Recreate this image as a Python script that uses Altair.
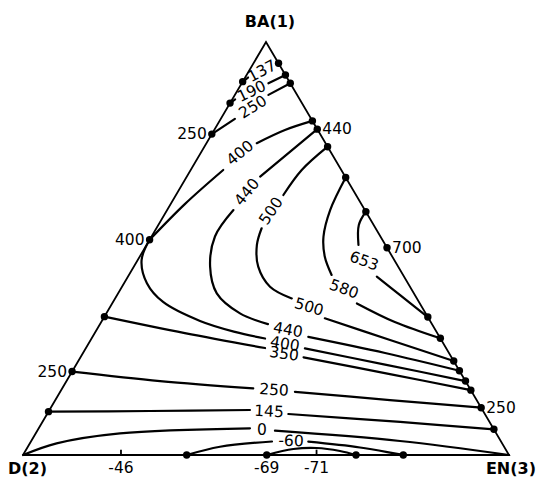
import altair as alt
import pandas as pd

# Ternary compositions in %, given as (BA(1), EN(3)); D(2) = 100 - BA - EN.
# Each contour is a list of drawn segments (gaps are where the labels sit).
c137 = [[(90.4, 0.0), (91.4, 0.6)]]
c190 = [[(85.2, 0.0), (86.1, 0.6)], [(90.0, 5.5), (92.0, 8.0)]]
c250a = [[(77.7, 0.0), (81.4, 2.9)], [(87.2, 6.9), (90.0, 10.0)]]
c400 = [[(80.9, 19.1), (78.7, 14.55), (75.5, 10.35)],
        [(69.0, 6.7), (60.8, 2.95), (52.1, 0.0)],
        [(52.1, 0.0), (47.2, 0.8), (41.6, 4.7), (37.05, 10.3),
         (32.45, 20.2), (29.8, 28.7), (28.2, 35.7)],
        [(25.8, 45.1), (21.9, 63.55), (17.9, 82.1)]]
c440 = [[(78.9, 21.1), (67.4, 15.1)],
        [(59.3, 13.65), (52.9, 13.05), (45.6, 15.7), (39.15, 20.3), (34.3, 27.5), (31.7, 34.55)],
        [(28.6, 44.4), (24.7, 62.15), (20.4, 79.6)]]
c500 = [[(74.65, 25.35), (69.0, 22.85), (62.95, 22.1)],
        [(54.9, 21.65), (50.85, 22.7), (45.6, 25.6), (40.75, 30.45), (37.9, 36.35)],
        [(33.1, 45.55), (27.85, 61.6), (22.75, 77.25)]]
c580 = [[(67.2, 32.8), (59.3, 33.55), (52.85, 35.4), (48.0, 38.1), (43.6, 41.7)],
        [(36.7, 50.35), (32.2, 60.4), (28.25, 71.75)]]
c653 = [[(58.9, 41.1), (55.7, 41.25), (50.85, 43.6)],
        [(43.2, 51.2), (38.7, 58.25), (33.4, 66.6)]]
c350 = [[(33.5, 0.0), (29.5, 18.55), (25.9, 36.85)],
        [(23.65, 45.9), (19.6, 65.7), (15.7, 84.3)]]
c250b = [[(20.2, 0.0), (17.9, 19.25), (16.15, 39.3)],
         [(15.3, 48.3), (13.3, 68.85), (11.45, 88.55)]]
c145 = [[(10.5, 0.0), (10.65, 20.8), (10.9, 41.25)],
        [(9.93, 49.63), (8.0, 73.6), (6.22, 93.78)]]
c0 = [[(0.0, 0.0), (2.83, 5.5), (5.25, 17.33), (6.46, 43.47)],
      [(5.88, 48.9), (3.39, 75.88), (0.0, 100.0)]]
cm60 = [[(0.0, 33.68), (2.0, 39.53), (3.27, 49.6)],
        [(3.22, 57.09), (1.82, 68.43), (0.0, 78.25)]]
cm71 = [[(0.0, 50.15), (1.45, 54.9), (1.7, 59.55), (0.97, 64.74), (0.0, 68.52)]]

contours = {"137": c137, "190": c190, "250a": c250a, "400": c400, "440": c440,
            "500": c500, "580": c580, "653": c653, "350": c350, "250b": c250b,
            "145": c145, "0": c0, "-60": cm60, "-71": cm71}

# contour labels
lab_text = ["137", "190", "250", "400", "440", "500", "653", "580", "500", "440",
            "400", "350", "250", "145", "0", "-60"]
lab_BA = [92.95, 88.04, 84.26, 73.12, 63.68, 59.08, 46.97, 40.19, 35.84, 30.27,
          26.88, 24.46, 15.74, 10.53, 6.05, 3.39]
lab_EN = [2.7, 3.04, 5.2, 8.09, 14.25, 21.49, 46.68, 45.95, 40.93, 39.4,
          40.47, 41.47, 43.78, 45.35, 46.15, 53.45]
lab_angle = [-28, -26, -32, -39, -51, -56, 20, 20, 16, 10, 9, 8, 4, 3, 0, 2]

# measured points on the edges
dot_left_BA = [90.4, 85.2, 77.7, 52.1, 33.5, 20.2, 10.5]
dot_right_BA = [94.84, 92.0, 90.0, 80.9, 78.9, 74.65, 67.2, 58.9, 50.2, 33.4,
                28.25, 22.75, 20.4, 17.9, 15.7, 11.45, 6.22]
dot_bottom_EN = [33.68, 50.15, 68.52, 78.25]

left_lab_text = ["250", "400", "250"]
left_lab_BA = [77.7, 52.1, 20.2]
right_lab_text = ["440", "700", "250"]
right_lab_BA = [78.9, 50.2, 11.45]
bottom_lab_text = ["-46", "-69", "-71"]
bottom_lab_EN = [20.16, 50.15, 60.4]
tick_EN = [20.16, 60.4]

vertex_text = ["BA(1)", "D(2)", "EN(3)"]
vertex_BA = [100.0, 0.0, 0.0]
vertex_EN = [0.0, 0.0, 100.0]

tri_BA = [0.0, 0.0, 100.0, 0.0]
tri_EN = [0.0, 100.0, 0.0, 0.0]


def cart(df):
    df["x"] = df["EN"] + df["BA"] / 2.0
    df["y"] = df["BA"]
    return df


rows = []
for name, segs in contours.items():
    for si, seg in enumerate(segs):
        for k, (ba, en) in enumerate(seg):
            rows.append({"seg": f"{name}_{si}", "ord": k, "BA": ba, "EN": en})
lines_df = cart(pd.DataFrame(rows))

tri_df = cart(pd.DataFrame({"BA": tri_BA, "EN": tri_EN, "ord": range(len(tri_BA))}))

dots_df = cart(pd.DataFrame({
    "BA": dot_left_BA + dot_right_BA + [0.0] * len(dot_bottom_EN),
    "EN": [0.0] * len(dot_left_BA) + [100.0 - b for b in dot_right_BA] + dot_bottom_EN,
}))

labels_df = cart(pd.DataFrame({"txt": lab_text, "BA": lab_BA, "EN": lab_EN,
                               "ang": [a % 360 for a in lab_angle]}))
left_df = cart(pd.DataFrame({"txt": left_lab_text, "BA": left_lab_BA,
                             "EN": [0.0] * len(left_lab_BA)}))
right_df = cart(pd.DataFrame({"txt": right_lab_text, "BA": right_lab_BA,
                              "EN": [100.0 - b for b in right_lab_BA]}))
bottom_df = cart(pd.DataFrame({"txt": bottom_lab_text, "EN": bottom_lab_EN,
                               "BA": [0.0] * len(bottom_lab_EN)}))
tick_df = cart(pd.DataFrame({"EN": tick_EN, "BA": [0.0] * len(tick_EN)}))
tick_df["y2"] = 1.3
vert_df = cart(pd.DataFrame({"txt": vertex_text, "BA": vertex_BA, "EN": vertex_EN}))

W, H = 529, 469
xs = alt.Scale(domain=[-3.086, 105.761], nice=False, zero=False)
ys = alt.Scale(domain=[-5.327, 108.232], nice=False, zero=False)
X = alt.X("x:Q", scale=xs, axis=None)
Y = alt.Y("y:Q", scale=ys, axis=None)

FONT = "DejaVu Sans"
FS = 15.5

tri = alt.Chart(tri_df).mark_line(color="black", strokeWidth=1.8).encode(
    x=X, y=Y, order="ord:Q")

curves = alt.Chart(lines_df).mark_line(color="black", strokeWidth=2.2,
                                       strokeCap="round", interpolate="catmull-rom").encode(
    x=X, y=Y, detail="seg:N", order="ord:Q")

ticks = alt.Chart(tick_df).mark_rule(color="black", strokeWidth=1.8).encode(
    x=X, y=Y, y2="y2:Q")

dots = alt.Chart(dots_df).mark_circle(color="black", opacity=1, size=55).encode(x=X, y=Y)

clabels = alt.Chart(labels_df).mark_text(font=FONT, fontSize=FS, color="black",
                                         align="center", baseline="middle").encode(
    x=X, y=Y, text="txt:N", angle=alt.Angle("ang:Q", scale=None))

llabels = alt.Chart(left_df).mark_text(font=FONT, fontSize=FS, color="black",
                                       align="right", baseline="middle", dx=-5).encode(
    x=X, y=Y, text="txt:N")
rlabels = alt.Chart(right_df).mark_text(font=FONT, fontSize=FS, color="black",
                                        align="left", baseline="middle", dx=5).encode(
    x=X, y=Y, text="txt:N")
blabels = alt.Chart(bottom_df).mark_text(font=FONT, fontSize=FS, color="black",
                                         align="center", baseline="middle", dy=13).encode(
    x=X, y=Y, text="txt:N")

VFONT = dict(font="DejaVu Sans", fontWeight="bold", fontSize=16, color="black")
vtop = alt.Chart(vert_df[vert_df["txt"] == "BA(1)"]).mark_text(
    align="center", baseline="middle", dx=4, dy=-20, **VFONT).encode(x=X, y=Y, text="txt:N")
vleft = alt.Chart(vert_df[vert_df["txt"] == "D(2)"]).mark_text(
    align="left", baseline="alphabetic", dx=-15, dy=19, **VFONT).encode(x=X, y=Y, text="txt:N")
vright = alt.Chart(vert_df[vert_df["txt"] == "EN(3)"]).mark_text(
    align="right", baseline="alphabetic", dx=27, dy=19, **VFONT).encode(x=X, y=Y, text="txt:N")

chart = alt.layer(tri, curves, ticks, dots, clabels, llabels, rlabels, blabels,
                  vtop, vleft, vright).properties(
    width=W, height=H, padding=0,
    autosize=alt.AutoSizeParams(type="none"),
    background="white",
).configure_view(stroke=None)

chart.save("out.html", embed_options={"renderer": "svg", "actions": False})
